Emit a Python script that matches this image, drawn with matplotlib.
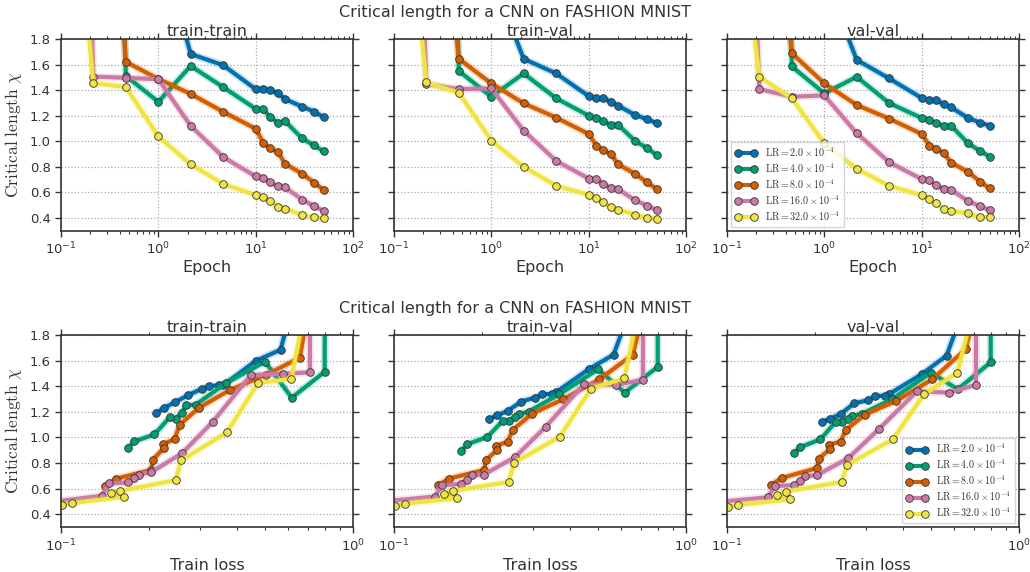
import numpy as np
import matplotlib
matplotlib.use("Agg")
import matplotlib.pyplot as plt
from matplotlib.font_manager import FontProperties
from matplotlib.ticker import NullFormatter

# epochs at which the critical length was measured
epochs = [0.1, 0.215, 0.464, 1.0, 2.15, 4.64, 10, 12, 14, 17, 20, 30, 40, 50]

# train loss at those epochs, one list per learning rate
loss_lr2 = [1.8, 1.3, 0.95, 0.72, 0.565, 0.464, 0.36, 0.348, 0.322, 0.304, 0.273, 0.245, 0.226, 0.212]
loss_lr4 = [1.2, 0.81, 0.80, 0.617, 0.50, 0.368, 0.289, 0.268, 0.259, 0.247, 0.236, 0.209, 0.178, 0.170]
loss_lr8 = [1.6, 1.15, 0.658, 0.505, 0.380, 0.297, 0.255, 0.245, 0.224, 0.225, 0.206, 0.204, 0.154, 0.142]
loss_lr16 = [0.72, 0.712, 0.576, 0.447, 0.331, 0.260, 0.203, 0.185, 0.178, 0.169, 0.146, 0.138, 0.089, 0.080]
loss_lr32 = [1.05, 0.615, 0.473, 0.370, 0.258, 0.247, 0.159, 0.148, 0.164, 0.109, 0.101, 0.090, 0.080, 0.072]

# critical length, train-train
tt_lr2 = [5.0, 4.0, 3.2, 2.6, 1.685, 1.597, 1.409, 1.409, 1.399, 1.38, 1.331, 1.273, 1.232, 1.19]
tt_lr4 = [12, 10, 1.513, 1.31, 1.591, 1.425, 1.255, 1.25, 1.193, 1.146, 1.159, 1.023, 0.968, 0.921]
tt_lr8 = [6.0, 5.0, 1.623, 1.49, 1.372, 1.232, 1.099, 0.989, 0.945, 0.916, 0.825, 0.747, 0.676, 0.619]
tt_lr16 = [10, 1.508, 1.498, 1.487, 1.122, 0.877, 0.726, 0.71, 0.679, 0.648, 0.64, 0.544, 0.491, 0.455]
tt_lr32 = [4.2, 1.458, 1.425, 1.039, 0.82, 0.666, 0.58, 0.562, 0.536, 0.486, 0.473, 0.424, 0.405, 0.397]

# critical length, train-val
tv_lr2 = [5.0, 4.0, 3.0, 2.3, 1.647, 1.532, 1.355, 1.340, 1.337, 1.311, 1.280, 1.207, 1.173, 1.144]
tv_lr4 = [12, 10, 1.551, 1.35, 1.532, 1.337, 1.202, 1.181, 1.157, 1.129, 1.131, 1.004, 0.946, 0.894]
tv_lr8 = [5.0, 4.0, 1.647, 1.454, 1.298, 1.186, 1.058, 0.967, 0.933, 0.9, 0.821, 0.746, 0.678, 0.626]
tv_lr16 = [8.4, 1.45, 1.41, 1.415, 1.084, 0.847, 0.709, 0.704, 0.668, 0.636, 0.626, 0.538, 0.496, 0.462]
tv_lr32 = [4.0, 1.462, 1.381, 1.006, 0.801, 0.652, 0.582, 0.556, 0.524, 0.483, 0.465, 0.426, 0.40, 0.394]

# critical length, val-val
vv_lr2 = [5.0, 4.0, 3.0, 2.3, 1.639, 1.493, 1.34, 1.324, 1.324, 1.29, 1.267, 1.183, 1.147, 1.123]
vv_lr4 = [12, 10, 1.587, 1.376, 1.506, 1.30, 1.183, 1.168, 1.142, 1.121, 1.124, 0.985, 0.923, 0.881]
vv_lr8 = [5.0, 4.0, 1.691, 1.454, 1.285, 1.178, 1.058, 0.967, 0.944, 0.907, 0.834, 0.761, 0.683, 0.631]
vv_lr16 = [8.0, 1.41, 1.35, 1.36, 1.064, 0.837, 0.704, 0.696, 0.657, 0.626, 0.621, 0.532, 0.491, 0.462]
vv_lr32 = [3.6, 1.506, 1.337, 0.985, 0.785, 0.652, 0.577, 0.55, 0.516, 0.472, 0.454, 0.435, 0.407, 0.405]

lr_names = ["2.0", "4.0", "8.0", "16.0", "32.0"]
colors = ["#0072B2", "#009E73", "#D55E00", "#CC79A7", "#F0E442"]
losses = [loss_lr2, loss_lr4, loss_lr8, loss_lr16, loss_lr32]
panels = [("train-train", [tt_lr2, tt_lr4, tt_lr8, tt_lr16, tt_lr32]),
          ("train-val", [tv_lr2, tv_lr4, tv_lr8, tv_lr16, tv_lr32]),
          ("val-val", [vv_lr2, vv_lr4, vv_lr8, vv_lr16, vv_lr32])]

plt.rcParams["axes.edgecolor"] = "#333333"
plt.rcParams["xtick.color"] = "#333333"
plt.rcParams["ytick.color"] = "#333333"
plt.rcParams["text.color"] = "#333333"
plt.rcParams["axes.labelcolor"] = "#333333"

fig = plt.figure(figsize=(10.3, 5.72), dpi=100)

lefts = [61/1030, 394/1030, 727/1030]
w = 292/1030
rows = [(1 - 230.7/572, 191.4/572), (1 - 527/572, 192/572)]

title = "Critical length for a CNN on FASHION MNIST"
fig.text(0.5, 1 - 12/572, title, ha="center", va="center", fontsize=11.5)
fig.text(0.5, 1 - 309/572, title, ha="center", va="center", fontsize=11.5)

leg_prop = FontProperties(size=7.2, math_fontfamily="cm")

for row in range(2):
    bottom, h = rows[row]
    for col in range(3):
        ax = fig.add_axes([lefts[col], bottom, w, h])
        name, ylists = panels[col]
        for i in range(5):
            if row == 0:
                xs = epochs
            else:
                xs = losses[i]
            ax.plot(xs, ylists[i], color=colors[i], lw=5.5, alpha=0.2, solid_capstyle="round")
            ax.plot(xs, ylists[i], color=colors[i], lw=3, marker="o", ms=5.5,
                    mec="#333333", mew=0.6,
                    label=r"$\mathrm{LR} = %s \times 10^{-4}$" % lr_names[i])
        ax.set_xscale("log")
        ax.xaxis.set_minor_formatter(NullFormatter())
        if row == 0:
            ax.set_xlim(0.1, 100)
            ax.set_xlabel("Epoch", fontsize=11.5, labelpad=2)
        else:
            ax.set_xlim(0.1, 1.0)
            ax.set_xlabel("Train loss", fontsize=11.5, labelpad=3)
        ax.set_ylim(0.3, 1.8)
        ax.set_yticks([0.4, 0.6, 0.8, 1.0, 1.2, 1.4, 1.6, 1.8])
        ax.set_title(name, fontsize=11.5, pad=1)
        ax.grid(True, which="major", linestyle=":", color="#aaaaaa", lw=0.9)
        ax.tick_params(which="both", direction="out", top=True, right=True, labelsize=9.5)
        ax.tick_params(which="major", length=4, width=1)
        ax.tick_params(which="minor", length=2.5, width=0.8)
        for s in ax.spines.values():
            s.set_linewidth(1.2)
        if col == 0:
            ax.set_ylabel(r"$\mathrm{Critical\ length}\ \chi$", fontsize=12.5,
                          math_fontfamily="cm", labelpad=4)
        else:
            ax.set_yticklabels([])
        if col == 2:
            if row == 0:
                ax.legend(loc="lower left", prop=leg_prop, numpoints=2, fancybox=False,
                          edgecolor="#cccccc", borderaxespad=0.4, handlelength=2.2,
                          labelspacing=0.25)
            else:
                ax.legend(loc="lower right", prop=leg_prop, numpoints=2, fancybox=False,
                          edgecolor="#cccccc", borderaxespad=0.4, handlelength=2.2,
                          labelspacing=0.25)

plt.savefig("out.png", dpi=100)
